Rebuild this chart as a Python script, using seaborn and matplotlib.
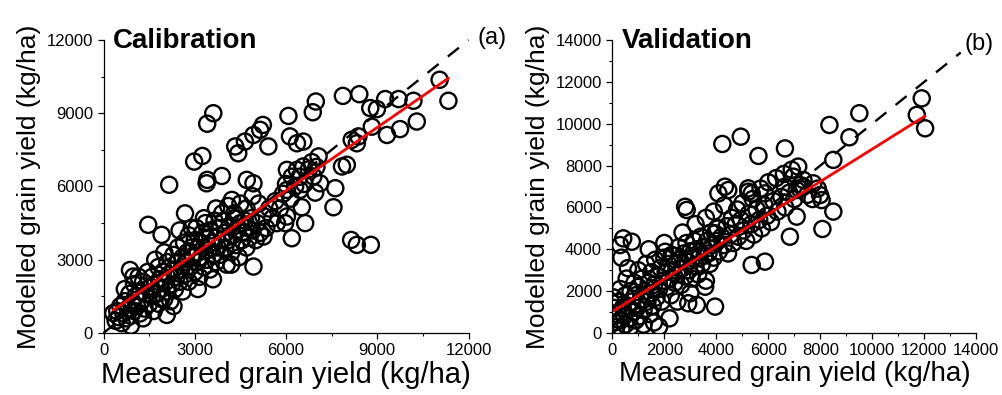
import matplotlib
matplotlib.use("Agg")
import matplotlib.pyplot as plt
import seaborn as sns
import pandas as pd
import numpy as np
from matplotlib.ticker import MultipleLocator

# measured vs modelled grain yield (kg/ha)
cal_points = [
    # scattered points above / below the main cloud
    (3610, 9000), (3410, 8570), (2980, 7020), (3250, 7250), (2160, 6070), (3410, 6270),
    (3890, 6430), (4330, 7640), (4430, 7360), (4650, 7840), (4930, 8110), (5150, 8320),
    (5240, 8520), (5420, 7640), (6080, 8890), (6130, 8050), (6360, 7770), (6570, 7840),
    (4710, 6270), (4930, 6130), (6030, 6680), (6190, 6400), (6360, 6680), (6980, 9480),
    (6880, 9040), (7870, 9710), (8410, 9780), (8770, 9210), (8990, 9170), (9260, 9580),
    (9700, 9580), (10190, 9510), (11050, 10370), (11340, 9510), (8820, 8450), (9320, 8110),
    (9750, 8350), (10300, 8660), (8160, 7910), (8330, 7770), (8380, 8050), (7840, 6820),
    (8000, 6890), (6570, 6820), (6900, 6410), (7070, 7230), (7120, 6130), (7620, 5930),
    (7560, 5150), (6960, 5750), (6520, 5150), (6630, 4500), (5970, 4500), (6190, 3880),
    (8140, 3810), (8330, 3610), (8790, 3610), (6460, 5860), (6030, 5860), (3390, 6130),
    (1470, 4430), (1910, 4020), (2680, 4900), (4220, 5450), (4930, 2720), (2080, 740),
    (6030, 4770), (5700, 4500), (5260, 3950), (870, 2580), (980, 2310), (320, 810),
    # main cloud
    (400, 500), (450, 900), (500, 650), (550, 1100), (600, 400), (650, 800), (700, 1300),
    (750, 600), (800, 1000), (850, 1600), (900, 700), (950, 1200), (1000, 2000), (1000, 900),
    (1050, 1500), (1100, 1100), (1150, 2300), (1200, 800), (1200, 1700), (1250, 1300),
    (1300, 2100), (1350, 1000), (1400, 1600), (1450, 2500), (1500, 1200), (1550, 1900),
    (1600, 2300), (1600, 1500), (1650, 900), (1700, 2000), (1750, 1600), (1800, 2700),
    (1800, 1200), (1850, 2200), (1900, 1800), (1950, 2500), (2000, 1400), (2050, 2100),
    (2100, 2900), (2100, 1700), (2150, 2400), (2200, 1300), (2250, 2000), (2300, 3200),
    (2300, 2600), (2350, 1800), (2400, 2300), (2450, 3500), (2450, 2900), (2500, 2100),
    (2550, 2600), (2600, 3100), (2600, 1700), (2650, 3700), (2700, 2400), (2700, 2900),
    (2750, 3300), (2800, 2100), (2800, 4000), (2850, 2700), (2900, 3500), (2950, 3100),
    (3000, 2500), (3000, 3800), (3050, 4300), (3100, 3300), (3100, 2900), (3150, 2300),
    (3200, 3700), (3200, 3100), (3250, 4100), (3300, 2700), (3300, 3500), (3350, 4500),
    (3400, 3000), (3400, 3900), (3450, 3400), (3500, 2600), (3500, 4200), (3550, 3700),
    (3600, 3200), (3650, 4600), (3700, 3900), (3700, 2900), (3750, 3500), (3800, 4300),
    (3850, 3200), (3900, 3800), (3950, 4600), (4000, 3500), (4000, 4100), (4050, 2800),
    (4100, 3800), (4150, 4400), (4200, 3300), (4250, 4000), (4300, 4700), (4350, 3600),
    (4400, 4200), (4450, 3100), (4500, 4500), (4550, 3800), (4600, 4100), (4650, 4600),
    (4700, 3500), (4750, 4300), (4800, 3900), (4850, 4700), (4900, 4200), (5000, 3800),
    (5050, 4500), (5150, 4100), (5250, 4800), (5350, 4300), (5450, 5100), (5550, 4700),
    (5650, 5400), (5800, 5100), (5900, 5700), (6000, 6100), (6150, 5500), (6300, 6000),
    (6450, 6400), (6600, 6100), (6750, 6700), (6850, 7000), (7000, 6800), (5100, 5300),
    (4900, 5600), (4700, 5100), (4500, 5300), (4300, 4900), (4100, 5200), (3900, 4900),
    (3700, 5100), (2300, 1100), (1900, 1400), (3100, 1800), (3600, 2200), (4200, 2800),
    (1300, 600), (900, 300), (700, 1800), (1700, 3000), (2000, 3300), (2500, 4200),
    (3300, 4700), (2900, 4300),
]

val_points = [
    # scattered points
    (4230, 9030), (4940, 9380), (5620, 8460), (6640, 8820), (7150, 7950), (6960, 7470),
    (4330, 6990), (5230, 6750), (5870, 6670), (6640, 6990), (11900, 11210), (11710, 10420),
    (12030, 9780), (9500, 10500), (8350, 9940), (9120, 9350), (8500, 8270), (7350, 7310),
    (7730, 7150), (8500, 5800), (8080, 4970), (7990, 6590), (8050, 6350), (7090, 5560),
    (6830, 4600), (7090, 6830), (7350, 6990), (2800, 6030), (2860, 5880), (420, 4520),
    (750, 4360), (300, 4200), (4080, 6670), (4460, 6830), (5360, 6670), (5230, 6910),
    (7220, 7070), (5870, 3410), (5360, 3250), (3950, 1260), (3250, 1340), (2920, 1420),
    (3570, 2210), (4020, 5000), (3950, 4760), (2030, 3880), (2280, 3730),
    # main cloud
    (50, 1200), (80, 500), (50, 1700), (150, 300), (200, 900), (250, 1500), (300, 2100),
    (300, 600), (350, 200), (400, 1200), (450, 800), (500, 1800), (500, 400), (550, 2600),
    (600, 1300), (650, 700), (700, 2000), (700, 300), (750, 1500), (800, 1000), (850, 2400),
    (900, 600), (900, 1800), (950, 1200), (1000, 3000), (1000, 2200), (1050, 800),
    (1100, 1600), (1150, 2600), (1200, 1100), (1200, 400), (1250, 2000), (1300, 3300),
    (1350, 1500), (1400, 2400), (1450, 900), (1500, 2900), (1500, 1900), (1550, 1300),
    (1600, 2300), (1650, 3500), (1700, 1700), (1750, 2700), (1800, 2100), (1850, 3100),
    (1900, 1500), (1950, 2500), (2000, 3600), (2050, 2900), (2100, 2200), (2150, 3300),
    (2200, 2600), (2250, 1800), (2300, 3000), (2350, 3700), (2400, 2400), (2450, 3300),
    (2500, 2800), (2550, 4100), (2600, 3500), (2650, 2300), (2700, 3100), (2750, 3800),
    (2800, 2700), (2850, 4300), (2900, 3400), (2950, 3000), (3000, 3900), (3050, 2600),
    (3100, 3600), (3150, 4400), (3200, 3200), (3250, 4000), (3300, 2800), (3350, 3600),
    (3400, 4600), (3450, 3300), (3500, 4100), (3550, 3700), (3600, 2500), (3650, 4400),
    (3700, 3800), (3750, 3300), (3800, 4800), (3850, 4200), (3900, 3600), (4000, 4400),
    (4050, 5000), (4100, 3900), (4200, 4600), (4300, 4200), (4400, 5100), (4450, 3800),
    (4550, 4700), (4650, 4300), (4750, 5200), (4850, 4600), (4950, 5400), (5050, 4900),
    (5150, 4400), (5250, 5700), (5350, 5200), (5450, 4700), (5550, 5900), (5650, 5400),
    (5750, 5000), (5850, 6100), (5950, 5600), (6100, 5300), (6200, 6300), (6350, 5800),
    (6500, 6500), (6650, 6000), (6800, 6700), (7000, 6400), (7200, 6900), (7500, 6600),
    (7700, 6400), (7900, 6900), (1800, 300), (2500, 1500), (2200, 700), (3000, 1900),
    (1600, 500), (600, 3100), (350, 3600), (1400, 4000), (2000, 4300), (2700, 4800),
    (3200, 5200), (3600, 5500), (3900, 5800), (4300, 6100), (4600, 5500), (4800, 5900),
    (5000, 6200), (5400, 6400), (5700, 6900), (6000, 7200), (6300, 7400), (6600, 7600),
    (6900, 7800),
]

# fitted regression lines (slope, intercept) as drawn in the figure
cal_fit = (0.862, 660)
val_fit = (0.777, 1020)

sns.set_theme(style="ticks")
plt.rcParams['font.family'] = ['Liberation Sans', 'DejaVu Sans']
plt.rcParams['text.color'] = 'black'
plt.rcParams['axes.labelcolor'] = 'black'
plt.rcParams['xtick.color'] = 'black'
plt.rcParams['ytick.color'] = 'black'


def draw_panel(ax, points, fit, lim, major, minor, one_to_one_end, title, tag, tag_xy, xlabel_size):
    df = pd.DataFrame(points, columns=["measured", "modelled"])

    sns.scatterplot(data=df, x="measured", y="modelled", ax=ax, marker="o", s=135,
                    color="black", edgecolor="black", linewidth=1.7, legend=False)
    ax.collections[-1].set_facecolor("none")

    # 1:1 line
    ax.plot([0, one_to_one_end], [0, one_to_one_end], color="black", lw=1.7,
            ls=(0, (6, 5)), clip_on=False)

    # regression line
    slope, intercept = fit
    xs = np.array([df["measured"].min(), df["measured"].max()])
    ax.plot(xs, intercept + slope * xs, color="red", lw=2.0)

    ax.set_xlim(0, lim)
    ax.set_ylim(0, lim)
    ax.xaxis.set_major_locator(MultipleLocator(major))
    ax.yaxis.set_major_locator(MultipleLocator(major))
    ax.xaxis.set_minor_locator(MultipleLocator(minor))
    ax.yaxis.set_minor_locator(MultipleLocator(minor))
    ax.tick_params(which="major", direction="out", length=4, width=0.9, labelsize=12)
    ax.tick_params(which="minor", direction="out", length=2.2, width=0.8)
    for side in ["left", "bottom"]:
        ax.spines[side].set_color("black")
        ax.spines[side].set_linewidth(0.9)
    sns.despine(ax=ax)

    ax.set_xlabel("Measured grain yield (kg/ha)", fontsize=xlabel_size, labelpad=2)
    ax.set_ylabel("Modelled grain yield (kg/ha)", fontsize=19, labelpad=4)

    ax.text(0.026, 0.997, title, transform=ax.transAxes, fontsize=20,
            fontweight="bold", ha="left", va="center")
    ax.text(tag_xy[0], tag_xy[1], tag, transform=ax.transAxes, fontsize=17,
            ha="center", va="center")


fig = plt.figure(figsize=(10.03, 3.95), dpi=100)
ax1 = fig.add_axes([0.1032, 0.157, 0.3639, 0.7418])
ax2 = fig.add_axes([0.6105, 0.157, 0.3629, 0.7418])

draw_panel(ax1, cal_points, cal_fit, 12000, 3000, 1500, 12000,
           "Calibration", "(a)", (1.064, 1.007), 21)
draw_panel(ax2, val_points, val_fit, 14000, 2000, 1000, 13400,
           "Validation", "(b)", (1.007, 0.986), 20)

fig.savefig("out.png", dpi=100)
